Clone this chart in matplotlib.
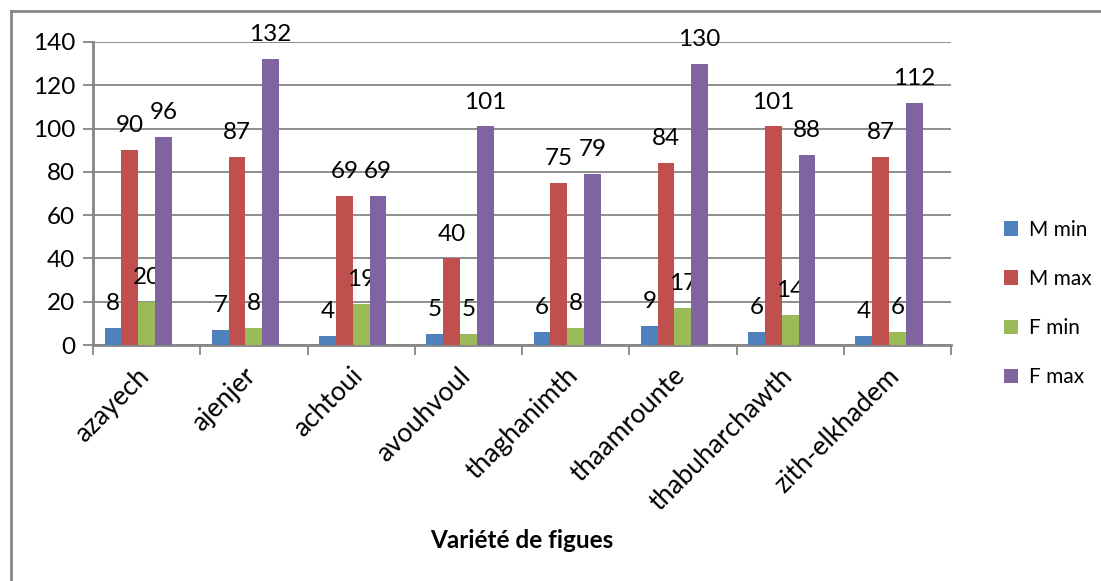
import matplotlib.pyplot as plt
import matplotlib.transforms as mtransforms
from matplotlib.lines import Line2D
import numpy as np

plt.rcParams['font.family'] = ['Lato', 'DejaVu Sans']

# data
varietes = ['azayech', 'ajenjer', 'achtoui', 'avouhvoul', 'thaghanimth',
	'thaamrounte', 'thabuharchawth', 'zith-elkhadem']
series_names = ['M min', 'M max', 'F min', 'F max']
m_min = [8, 7, 4, 5, 6, 9, 6, 4]
m_max = [90, 87, 69, 40, 75, 84, 101, 87]
f_min = [20, 8, 19, 5, 8, 17, 14, 6]
f_max = [96, 132, 69, 101, 79, 130, 88, 112]
y_ticks = [0, 20, 40, 60, 80, 100, 120, 140]

colors = ['#4F81BD', '#C0504D', '#9BBB59', '#8064A2']
grid_color = '#868686'

W, H = 1101, 581
fig = plt.figure(figsize = (W / 100, H / 100), dpi = 100)

# outer chart frame (only top and left are visible in the picture)
fig.add_artist(Line2D([11 / W, 1.0], [1 - 11 / H, 1 - 11 / H],
	transform = fig.transFigure, color = grid_color, linewidth = 2))
fig.add_artist(Line2D([11 / W, 11 / W], [0.0, 1 - 11 / H],
	transform = fig.transFigure, color = grid_color, linewidth = 2))

ax = fig.add_axes([93 / W, (H - 345) / H, (951 - 93) / W, (345 - 42) / H])

x = np.arange(len(varietes))
# excel layout with room for 5 bars per group, only 4 drawn
bar_w = 0.1566
all_series = [m_min, m_max, f_min, f_max]

for k, (vals, name) in enumerate(zip(all_series, series_names)):
	bars = ax.bar(x + (k - 2) * bar_w, vals, width = bar_w, color = colors[k],
		label = name, zorder = 3)
	ax.bar_label(bars, padding = 10, fontsize = 17.5, color = 'black')

ax.set_xlim(-0.5, len(varietes) - 0.5)
ax.set_ylim(0, 140)
ax.set_yticks(y_ticks)
ax.yaxis.grid(True, color = grid_color, linewidth = 1.3, zorder = 0)
ax.set_axisbelow(True)

for side in ['top', 'right']:
	ax.spines[side].set_visible(False)
for side in ['left', 'bottom']:
	ax.spines[side].set_color(grid_color)
	ax.spines[side].set_linewidth(2)

ax.tick_params(axis = 'y', length = 7, width = 1.3, color = grid_color,
	labelsize = 17.5, pad = 6)

# category boundaries as tick marks
ax.set_xticks(np.arange(len(varietes) + 1) - 0.5)
ax.set_xticklabels([])
ax.tick_params(axis = 'x', length = 7, width = 1.3, color = grid_color)

offset = mtransforms.ScaledTranslation(7 / 100, -18 / 100, fig.dpi_scale_trans)
for i, name in enumerate(varietes):
	ax.text(i, 0, name, rotation = 45, ha = 'right', va = 'top', fontsize = 19,
		transform = ax.get_xaxis_transform() + offset)

fig.text(522 / W, 1 - 540 / H, 'Variété de figues', ha = 'center', va = 'center',
	fontsize = 17.5, fontweight = 'bold')

fig.legend(loc = 'upper left', bbox_to_anchor = (985 / W, 1 - 201 / H),
	frameon = False, fontsize = 15, handlelength = 0.7, handleheight = 0.7,
	handletextpad = 0.5, labelspacing = 1.4)

fig.savefig('out.png', dpi = 100)
